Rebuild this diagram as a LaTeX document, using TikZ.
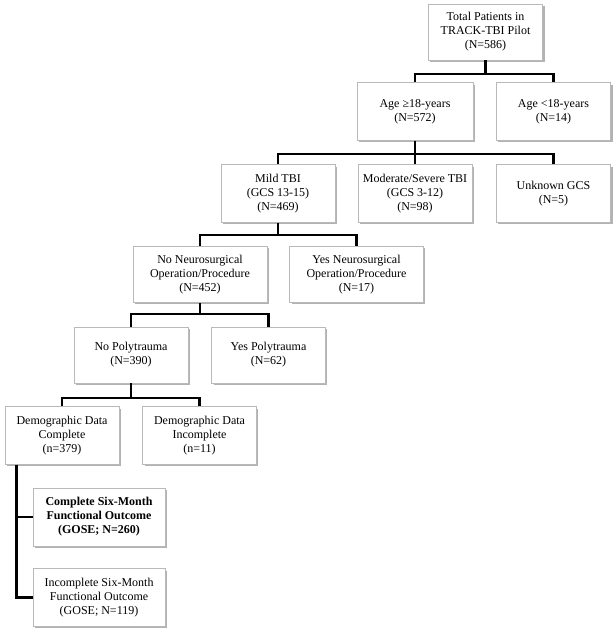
\documentclass[tikz,border=0pt]{standalone}
\usepackage{fontspec}
\setmainfont{Liberation Serif}
\usetikzlibrary{shadows}
\begin{document}
\begin{tikzpicture}[x=0.75pt,y=-0.75pt,
  box/.style={draw=gray!55, line width=0.6pt, fill=white, align=center,
    font=\fontsize{9}{10.5}\selectfont, inner sep=1pt,
    drop shadow={shadow xshift=1.3pt, shadow yshift=-1.3pt, fill=black, opacity=0.3}},
  conn/.style={line width=2.2pt, black, line join=miter}]
\useasboundingbox[fill=white] (0,0) rectangle (615,631);
\node[box, minimum width=86pt, minimum height=42pt] (total) at (485.5,32) {Total Patients in\\TRACK-TBI Pilot\\(N=586)};
\node[box, minimum width=87pt, minimum height=43pt] (age18) at (415,111.5) {Age ≥18-years\\(N=572)};
\node[box, minimum width=86pt, minimum height=43pt] (ageu) at (553.5,111.5) {Age <18-years\\(N=14)};
\node[box, minimum width=85.5pt, minimum height=43pt] (mild) at (278,193.5) {Mild TBI\\(GCS 13-15)\\(N=469)};
\node[box, minimum width=85.5pt, minimum height=43pt] (mod) at (415,193.5) {Moderate/Severe TBI\\(GCS 3-12)\\(N=98)};
\node[box, minimum width=86pt, minimum height=43pt] (unk) at (553.5,193.5) {Unknown GCS\\(N=5)};
\node[box, minimum width=100.5pt, minimum height=42pt] (noneuro) at (200,274.5) {No Neurosurgical\\Operation/Procedure\\(N=452)};
\node[box, minimum width=100pt, minimum height=42pt] (yesneuro) at (356.5,274.5) {Yes Neurosurgical\\Operation/Procedure\\(N=17)};
\node[box, minimum width=85.5pt, minimum height=42pt] (nopoly) at (131,355) {No Polytrauma\\(N=390)};
\node[box, minimum width=85pt, minimum height=42pt] (yespoly) at (268.5,355) {Yes Polytrauma\\(N=62)};
\node[box, minimum width=85.5pt, minimum height=43pt] (democ) at (62,435.5) {Demographic Data\\Complete\\(n=379)};
\node[box, minimum width=85pt, minimum height=43pt] (demoi) at (199.5,435.5) {Demographic Data\\Incomplete\\(n=11)};
\node[box, minimum width=99pt, minimum height=43.5pt, font=\fontsize{9}{10.5}\selectfont\bfseries] (gosec) at (99,517) {Complete Six-Month\\Functional Outcome\\(GOSE; N=260)};
\node[box, minimum width=99pt, minimum height=43pt] (gosei) at (99,597.5) {Incomplete Six-Month\\Functional Outcome\\(GOSE; N=119)};
% connectors
\draw[conn] (total.south) -- (total.south |- 0,74) -| (age18.north);
\draw[conn] (total.south) -- (total.south |- 0,74) -| (ageu.north);
\draw[conn] (age18.south) -- (age18.south |- 0,154) -| (mild.north);
\draw[conn] (age18.south) -- (mod.north);
\draw[conn] (age18.south) -- (age18.south |- 0,154) -| (unk.north);
\draw[conn] (mild.south) -- (mild.south |- 0,235) -| (noneuro.north);
\draw[conn] (mild.south) -- (mild.south |- 0,235) -| (yesneuro.north);
\draw[conn] (noneuro.south) -- (noneuro.south |- 0,314) -| (nopoly.north);
\draw[conn] (noneuro.south) -- (noneuro.south |- 0,314) -| (yespoly.north);
\draw[conn] (nopoly.south) -- (nopoly.south |- 0,398) -| (democ.north);
\draw[conn] (nopoly.south) -- (nopoly.south |- 0,398) -| (demoi.north);
\draw[conn] (democ.south west) ++(12,0) |- (gosec.west);
\draw[conn] (democ.south west) ++(12,0) |- (gosei.west);
\end{tikzpicture}
\end{document}
